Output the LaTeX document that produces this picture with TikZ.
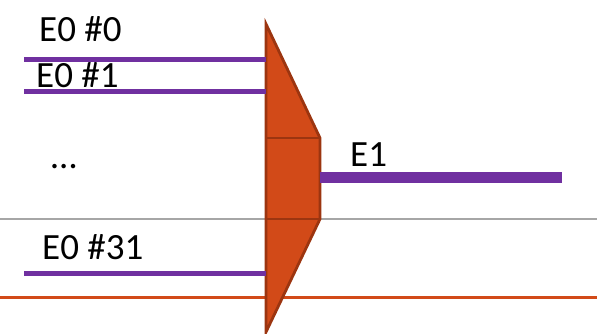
\documentclass[tikz,border=0pt]{standalone}
\usepackage{fontspec}
\setmainfont{Carlito}
\definecolor{muxfill}{HTML}{D24A18}
\definecolor{muxedge}{HTML}{9C3510}
\definecolor{bus}{HTML}{7030A0}
\definecolor{rule}{HTML}{A6A6A6}
\tikzset{
  lbl/.style={anchor=base west, inner sep=0pt, font=\fontsize{37}{37}\selectfont},
  inbus/.style={draw=bus, line width=5pt},
  outbus/.style={draw=bus, line width=11pt},
  muxbody/.style={fill=muxfill, draw=muxedge, line width=2.8pt, line join=miter},
  divider/.style={draw=muxedge, line width=2.8pt}
}
\begin{document}
\begin{tikzpicture}[x=1pt, y=-1pt]
  \useasboundingbox (0,0) rectangle (597,334);

  % guide lines across the page
  \coordinate (gl) at (0,219);   \coordinate (gr) at (597,219);
  \coordinate (ol) at (0,297.5); \coordinate (or) at (597,297.5);
  \draw[rule, line width=1.2pt] (gl) -- (gr);
  \draw[muxfill, line width=2.4pt] (ol) -- (or);

  % multiplexer corners
  \coordinate (mtl) at (266,24);
  \coordinate (mbl) at (266,332);
  \coordinate (mtr) at (320,138);
  \coordinate (mbr) at (320,219);
  \coordinate (dtl) at (266,138);
  \coordinate (dbl) at (266,219);
  \path[muxbody] (mtl) -- (mtr) -- (mbr) -- (mbl) -- cycle;
  \draw[divider] (dtl) -- (mtr);
  \draw[divider] (dbl) -- (mbr);

  % input buses
  \coordinate (i0s) at (24,60);    \coordinate (i0e) at (266,60);
  \coordinate (i1s) at (24,92);    \coordinate (i1e) at (266,92);
  \coordinate (i31s) at (24,273.5); \coordinate (i31e) at (266,273.5);
  \draw[inbus] (i0s) -- (i0e);
  \draw[inbus] (i1s) -- (i1e);
  \draw[inbus] (i31s) -- (i31e);

  % output bus
  \coordinate (os) at (320,177); \coordinate (oe) at (562,177);
  \draw[outbus] (os) -- (oe);

  % labels
  \node[lbl] (l0) at (39,42) {E0 \#0};
  \node[lbl] (l1) at (36,88) {E0 \#1};
  \node[lbl] (ld) at (51,168) {…};
  \node[lbl] (lo) at (350,166) {E1};
  \node[lbl] (l31) at (42,259) {E0 \#31};
\end{tikzpicture}
\end{document}
